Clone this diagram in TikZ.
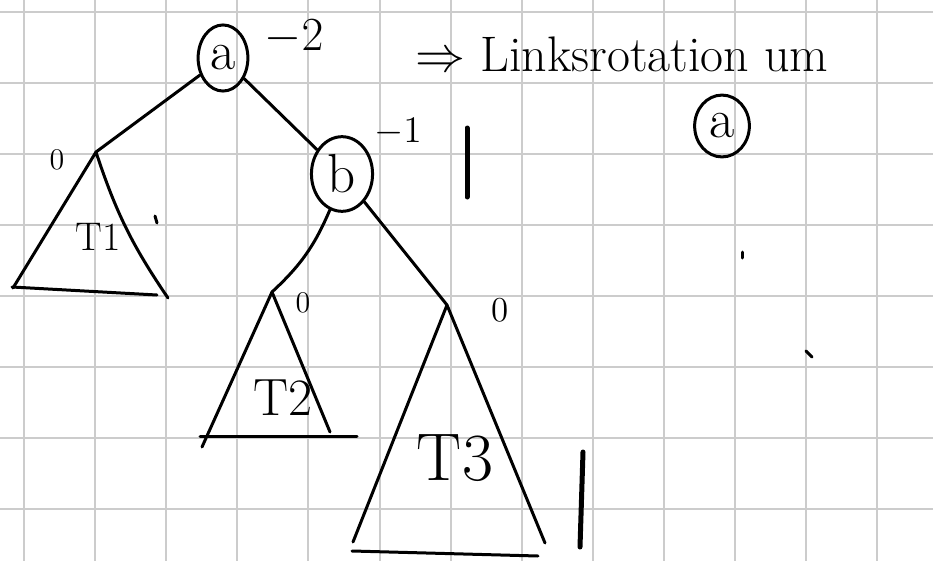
\documentclass[tikz,border=0pt]{standalone}
\usepackage{fix-cm}
\usepackage{tikz}
\usetikzlibrary{shapes.geometric,positioning}

\begin{document}
\begin{tikzpicture}[
    x=0.014065cm, y=-0.014065cm,
    gridline/.style={draw=black!20, line width=0.8pt},
    pen/.style={line width=1.2pt, line cap=round, line join=round},
    bar/.style={line width=2pt, line cap=round},
    knot/.style={pen, draw, ellipse, inner sep=0pt, font=\fontsize{22}{24}\selectfont},
    bal/.style={font=\fontsize{#1}{#1}\selectfont, inner sep=0pt},
    tname/.style={font=\fontsize{#1}{#1}\selectfont, inner sep=0pt},
]
\useasboundingbox (0,0) rectangle (933,561);
\foreach \gx in {0,...,12} \draw[gridline] ({24+71.1*\gx},0) -- ({24+71.1*\gx},561);
\foreach \gy in {0,...,7} \draw[gridline] (0,{11.7+71.1*\gy}) -- (933,{11.7+71.1*\gy});

\node[knot, minimum width=0.70cm, minimum height=0.93cm] (a) at (223,58) {a};
\node[knot, minimum width=0.86cm, minimum height=1.05cm] (b) at (342,174) {b};
\node[knot, minimum width=0.77cm, minimum height=0.87cm] (pivot) at (722,126) {a};

\node[bal=19] (bala) at (294,37) {$-2$};
\node[bal=15] (balb) at (398,132) {$-1$};
\node[bal=12] (bal1) at (57,160) {0};
\node[bal=12] (bal2) at (303,303) {0};
\node[bal=14] (bal3) at (500,310) {0};

\node[anchor=west, font=\fontsize{20}{24}\selectfont, inner sep=0pt] (rot) at (415,54) {$\Rightarrow$ Linksrotation um};

\coordinate (t1top) at (96,152);
\coordinate (t1l) at (13,288);
\coordinate (t1r) at (168,298);
\coordinate (t1bl) at (12,287);
\coordinate (t1br) at (157,295);
\coordinate (t2top) at (272,292);
\coordinate (t2l) at (202,447);
\coordinate (t2r) at (330,432);
\coordinate (t2bl) at (200,436);
\coordinate (t2br) at (357,436);
\coordinate (t3top) at (447,305);
\coordinate (t3l) at (353,542);
\coordinate (t3r) at (545,543);
\coordinate (t3bl) at (352,551);
\coordinate (t3br) at (538,556);

\node[tname=16] (T1) at (98,237) {T1};
\node[tname=21] (T2) at (283,398) {T2};
\node[tname=27] (T3) at (455,458) {T3};

\draw[pen] (a) -- (t1top);
\draw[pen] (a) -- (b);
\draw[pen] (b) to[bend left=12] (t2top);
\draw[pen] (b) -- (t3top);

\draw[pen] (t1l) -- (t1top) to[bend right=8] (t1r);
\draw[pen] (t1bl) -- (t1br);
\draw[pen] (t2l) -- (t2top) -- (t2r);
\draw[pen] (t2bl) -- (t2br);
\draw[pen] (t3l) -- (t3top) -- (t3r);
\draw[pen] (t3bl) -- (t3br);

\coordinate (bar1a) at (467,128);
\coordinate (bar1b) at (467,197);
\coordinate (bar2a) at (583,452);
\coordinate (bar2b) at (580,547);
\draw[bar] (bar1a) -- (bar1b);
\draw[bar] (bar2a) -- (bar2b);

\coordinate (tick1a) at (155,216);
\coordinate (tick1b) at (157,223);
\coordinate (tick2a) at (742,252);
\coordinate (tick2b) at (742,258);
\coordinate (tick3a) at (806,351);
\coordinate (tick3b) at (812,357);
\draw[pen] (tick1a) -- (tick1b);
\draw[pen] (tick2a) -- (tick2b);
\draw[pen] (tick3a) -- (tick3b);
\end{tikzpicture}
\end{document}
